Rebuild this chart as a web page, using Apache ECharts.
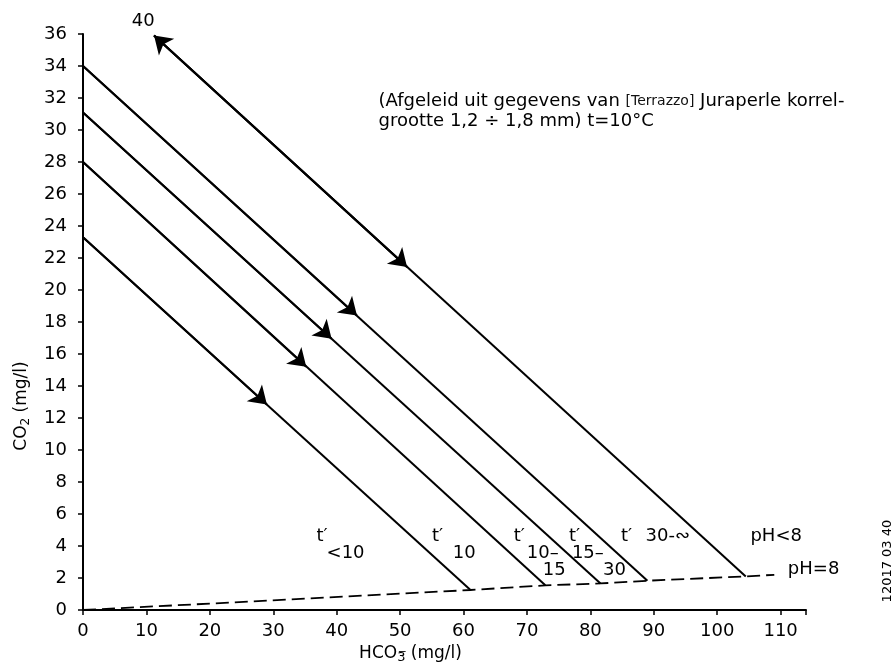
<!DOCTYPE html>
<html>
<head>
<meta charset="utf-8">
<title>CO2 - HCO3</title>
<script src="https://cdn.jsdelivr.net/npm/echarts@6/dist/echarts.min.js"></script>
<style>
  html, body { margin: 0; background: #fff; }
  #chart { width: 892px; height: 663px; }
</style>
</head>
<body>
<div id="chart"></div>
<script>
// lijnen (HCO3-, CO2) : begin, pijlpunt, eind op pH = 8
const lineStarts = [[0, 23.3], [0, 28.0], [0, 31.1], [0, 34.0], [11.2, 35.9]];
const arrowPoints = [[29.0, 12.85], [35.2, 15.2], [39.2, 16.96], [43.2, 18.4], [51.1, 21.44]];
const lineEnds = [[61.1, 1.25], [72.9, 1.54], [81.6, 1.66], [89.0, 1.83], [104.5, 2.1]];

// stippellijn pH = 8
const phLine = [[0, 0], [20, 0.4], [61.1, 1.25], [72.9, 1.54], [81.6, 1.66], [89.0, 1.83], [104.5, 2.1], [109, 2.2]];

// losse teksten in de grafiek
const labelTexts = ['40', 't′', '<10', 't′', '10', 't′', '10–', '15', 't′', '15–', '30', 't′', '30-∾', 'pH<8', 'pH=8'];
const labelPoints = [
  [9.5, 36.8],
  [37.7, 4.58], [41.4, 3.54],
  [55.9, 4.58], [60.1, 3.54],
  [68.8, 4.58], [72.5, 3.54], [74.3, 2.5],
  [77.5, 4.58], [79.6, 3.54], [83.8, 2.5],
  [85.7, 4.58], [92.2, 4.58],
  [109.3, 4.58], [115.2, 2.56]
];

const noteLine1 = '(Afgeleid uit gegevens van ';
const noteTag = '[Terrazzo]';
const noteLine1b = ' Juraperle korrel-';
const noteLine2 = 'grootte 1,2 ÷ 1,8 mm) t=10°C';
const notePoint = [46.6, 31.15];

const docCode = '12017 03 40';
const docPoint = [126.8, 3.06];

const FONT = '"DejaVu Sans", sans-serif';

const chart = echarts.init(document.getElementById('chart'));

const mainSeries = lineStarts.map((s, i) => ({
  type: 'line',
  data: [s, lineEnds[i]],
  showSymbol: false,
  symbol: 'none',
  lineStyle: { color: '#000', width: 2 },
  silent: true,
  z: 3
}));

// pijlen: stuk tot de pijlpunt, bovenste lijn ook terug naar begin
const arrowData = lineStarts.map((s, i) => ({ coords: [s, arrowPoints[i]] }));
arrowData.push({ coords: [arrowPoints[4], lineStarts[4]] });

const textSeries = (data, label) => ({
  type: 'scatter',
  clip: false,
  symbolSize: 0,
  silent: true,
  itemStyle: { opacity: 1 },
  data,
  label: Object.assign({ show: true, color: '#000', textBorderWidth: 0, fontFamily: FONT }, label)
});

const option = {
  backgroundColor: '#fff',
  animation: false,
  textStyle: { fontFamily: FONT, color: '#000' },
  grid: { left: 83, right: 86, top: 34, bottom: 53, outerBoundsMode: 'none', containLabel: false },
  xAxis: {
    type: 'value',
    min: 0,
    max: 114,
    interval: 10,
    name: '{n|HCO}{s|3\u0305}{n| (mg/l)}',
    nameLocation: 'middle',
    nameGap: 32,
    nameTextStyle: {
      padding: [0, 68, 0, 0],
      rich: {
        n: { fontSize: 17, fontFamily: FONT, color: '#000' },
        s: { fontSize: 13, fontFamily: FONT, color: '#000', verticalAlign: 'bottom', padding: [9, 0, 0, 0] }
      }
    },
    axisLine: { onZero: false, lineStyle: { color: '#000', width: 2 } },
    axisTick: { inside: false, length: 5, lineStyle: { color: '#000', width: 1.5 } },
    axisLabel: { fontSize: 18, color: '#000', margin: 12, fontFamily: FONT,
      formatter: v => (v > 110 ? '' : v) },
    splitLine: { show: false }
  },
  yAxis: {
    type: 'value',
    min: 0,
    max: 36,
    interval: 2,
    name: '{n|CO}{s|2}{n| (mg/l)}',
    nameLocation: 'middle',
    nameGap: 51,
    nameRotate: 90,
    nameTextStyle: {
      padding: [0, 168, 0, 0],
      rich: {
        n: { fontSize: 17, fontFamily: FONT, color: '#000' },
        s: { fontSize: 12, fontFamily: FONT, color: '#000', verticalAlign: 'bottom', padding: [8, 0, 0, 0] }
      }
    },
    axisLine: { show: true, onZero: false, lineStyle: { color: '#000', width: 2 } },
    axisTick: { show: true, inside: false, length: 5, lineStyle: { color: '#000', width: 1.5 } },
    axisLabel: { fontSize: 18, color: '#000', margin: 16, fontFamily: FONT },
    splitLine: { show: false }
  },
  series: [
    ...mainSeries,
    {
      type: 'lines',
      coordinateSystem: 'cartesian2d',
      data: arrowData,
      symbol: ['none', 'arrow'],
      symbolSize: [9, 17],
      lineStyle: { color: '#000', width: 2, opacity: 1 },
      silent: true,
      z: 4
    },
    {
      type: 'line',
      data: phLine,
      showSymbol: false,
      symbol: 'none',
      lineStyle: { color: '#000', width: 1.8, type: [13, 6] },
      silent: true,
      z: 2
    },
    textSeries(
      labelPoints.map((p, i) => ({ value: p, name: labelTexts[i] })),
      { position: 'inside', fontSize: 18, formatter: p => p.name }
    ),
    textSeries([{ value: notePoint }], {
      position: 'right',
      distance: 0,
      align: 'left',
      verticalAlign: 'middle',
      formatter: '{n|' + noteLine1 + '}{t|' + noteTag + '}{n|' + noteLine1b + '}\n{n|' + noteLine2 + '}',
      rich: {
        n: { fontSize: 18, fontFamily: FONT, color: '#000', lineHeight: 20 },
        t: { fontSize: 14, fontFamily: FONT, color: '#111', lineHeight: 20 }
      }
    }),
    textSeries([{ value: docPoint }], {
      position: 'inside',
      rotate: 90,
      fontSize: 13,
      formatter: docCode
    })
  ]
};

chart.setOption(option);
window.addEventListener('resize', () => chart.resize());
</script>
</body>
</html>
